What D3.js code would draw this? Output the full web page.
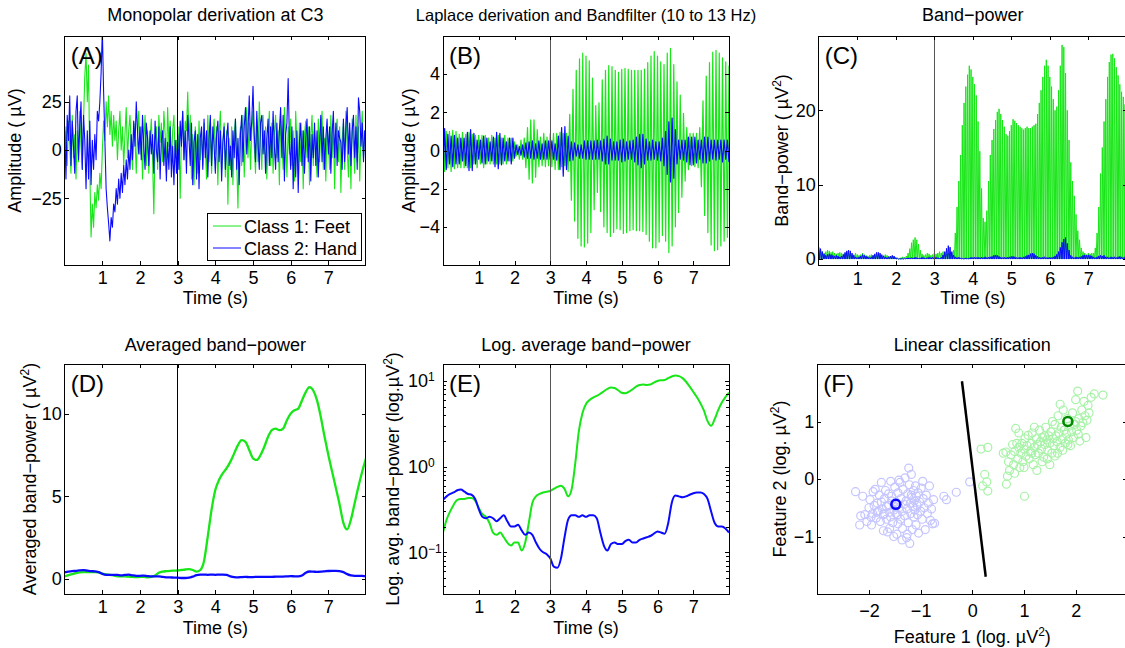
<!DOCTYPE html>
<html>
<head>
<meta charset="utf-8">
<script src="https://cdn.jsdelivr.net/npm/d3@7"></script>
<style>
    body { margin: 0; background: #fff; }
    text { font-family: "Liberation Sans", Arial, Helvetica, sans-serif; fill: #000; }
</style>
</head>
<body>
<svg id="chart" width="1125" height="648"></svg>
<script>
// ---- Data ----

// (A) monopolar C3, 30 samples per second, 0..8 s.
const RAW_RATE = 30;
const rawFeet = [
    -5, 12, -8, 15, 3, -12, 18, -4, 8, -15,
    10, -6, 20, 2, -10, 15, 38, 50, 25, 44,
    -10, -45, -28, -40, -22, -30, -18, -26, -12, -20,
    0, 15, 5, 25, 12, 28, 8, 20, 2, 18,
    5, 15, -5, 10, 20, 0, 12, -8, 8, 22,
    -4, 10, 18, 2, -10, 14, 6, -12, 8, 20,
    -2, 12, -15, 5, 18, -8, 10, -12, 6, 16,
    -5, -33, 5, 12, -10, 18, 4, 14, -6, 20,
    8, -12, 22, 2, 15, -8, 10, 18, -4, 5,
    -10, 12, -25, 8, 20, -5, 15, 10, 30, 5,
    18, -15, 8, -18, 12, 2, -12, 15, -5, 10,
    -8, 14, 2, -15, 18, -6, 10, -12, 6, 16,
    -2, 12, -18, 8, 20, -10, 4, 14, -14, 10,
    -28, 6, -10, 12, -18, 8, 16, -6, -30, 4,
    12, -8, 18, -14, 6, 22, -4, 14, -10, 10,
    20, 2, -12, 15, -6, 25, 8, -10, 18, -2,
    12, -15, 6, 20, -8, 14, -12, 8, 18, -4,
    10, -18, 15, 4, -10, 22, 6, -14, 12, -2,
    16, -8, 10, -16, 20, 2, -12, 14, -6, 10,
    -20, 8, 15, -4, 12, -18, 6, 18, -8, 10,
    2, -14, 16, -6, 10, 20, -10, 6, -16, 12,
    4, -10, 18, -4, 14, -20, 8, 16, -6, 12,
    -22, 6, 14, -10, 20, 2, -14, 10, -20, 16,
    4, -12, 18, -6, 12, -16, 8, 20, -4, 10, 2
];
const rawHand = [
    10, -15, 18, 5, 28, -8, 15, 2, -12, 20,
    28, -5, 12, 25, -10, 18, 5, -20, 10, -15,
    15, -18, 5, -10, 8, -5, 20, 15, 25, 40,
    62, 30, 5, -20, -30, -38, -47, -35, -40, -28,
    -32, -20, -28, -15, -25, -12, -22, -8, -18, -5,
    -15, 0, -10, 8, -5, 15, 2, 25, 10, -2,
    12, -5, 18, 2, -10, 14, 6, -8, 10, -2,
    8, -12, 15, 0, -6, 12, -15, 5, 10, -8,
    6, -16, 4, -10, 12, -14, 2, -18, 5, -12,
    8, -10, 15, 2, 20, -5, 10, -12, 18, 6,
    -8, 14, -18, 4, 10, -15, 8, -20, 6, 12,
    -10, 16, -4, 10, -14, 6, 18, -8, 12, 2,
    -12, 8, 15, -6, 10, -16, 4, 12, -10, 6,
    14, -8, 2, -14, 10, -4, 16, -10, 6, -18,
    8, 18, -6, 12, 22, -2, 10, 28, 5, 15,
    33, 8, -6, 20, 4, -10, 14, 18, -2, 10,
    -12, 6, 16, -8, 12, -4, 20, 2, -10, 14,
    -6, 10, 22, -4, 18, -16, 8, 14, 37, 5,
    -10, 12, -20, 6, -14, 10, -22, 4, 14, -8,
    10, -12, 6, 16, -6, 12, -16, 8, -4, 14,
    -8, 10, -14, 4, 18, -6, 12, -10, 6, 16,
    -2, 12, -12, 8, 20, -4, 14, -8, 10, 6,
    4, -10, 16, -6, 12, 22, -2, 14, -8, 10,
    18, -4, 12, -10, 27, 20, 2, 14, -6, 10, 4
];

// (B) band-filtered signal, successive extremes, 22 per second.
const EXTREMA_RATE = 22;
const filtFeet = [
    1.2, -1.1, 1.0, -0.9, 1.0, -1.1, 1.05, -0.95, 1.0, -0.9, 0.85,
    -0.9, 0.95, -0.9, 0.85, -0.9, 0.95, -0.9, 0.85, -0.7, 0.8, -0.9,
    0.8, -0.7, 0.8, -0.9, 0.8, -0.7, 0.65, -0.7, 0.8, -0.7, 0.65,
    -0.7, 0.8, -0.7, 0.65, -0.7, 0.8, -0.7, 0.65, -0.55, 0.65, -0.55,
    0.45, -0.3, 0.3, -0.45, 0.55, -0.45, 0.65, -0.9, 1.2, -1.5, 1.6,
    -1.7, 1.6, -1.4, 1.1, -0.85, 0.7, -0.8, 0.9, -0.85, 0.7, -0.8,
    0.9, -0.85, 0.9, -1.0, 0.9, -1.0, 0.95, -0.85, 0.9, -0.8, 0.9,
    -1.1, 1.9, -2.6, 3.2, -3.7, 4.2, -4.6, 4.8, -5.0, 5.1, -5.05,
    4.95, -4.85, 4.7, -4.3, 3.8, -3.1, 2.35, -2.2, 2.5, -3.2, 3.7,
    -4.0, 4.2, -4.3, 4.45, -4.5, 4.4, -4.3, 4.2, -4.1, 4.1, -4.15,
    4.25, -4.35, 4.3, -4.3, 4.25, -4.2, 4.2, -4.15, 4.2, -4.2, 4.2,
    -4.2, 4.2, -4.25, 4.27, -4.4, 4.6, -4.75, 4.95, -5.1, 5.18, -5.1,
    4.95, -4.8, 4.65, -4.45, 4.5, -4.75, 5.1, -5.35, 5.35, -5.0, 4.5,
    -4.0, 3.6, -3.25, 2.9, -2.45, 1.95, -1.6, 1.2, -1.0, 0.9, -0.8,
    0.9, -0.85, 0.9, -0.9, 1.2, -1.9, 2.6, -3.4, 3.9, -4.3, 4.6,
    -4.95, 5.15, -5.25, 5.25, -5.2, 5.1, -5.0, 4.85, -4.75, 4.65, -4.55, 4.45
];
const filtHand = [
    -1.25, 1.15, -1.0, 0.85, -0.7, 0.75, -0.85, 0.8, -0.7, 0.65, -0.7,
    0.65, -0.55, 0.65, -0.8, 0.95, -1.05, 1.1, -1.05, 0.9, -0.7, 0.55,
    -0.45, 0.55, -0.65, 0.75, -0.7, 0.65, -0.55, 0.45, -0.55, 0.7, -0.85,
    0.95, -0.95, 0.9, -0.75, 0.65, -0.55, 0.45, -0.55, 0.65, -0.7, 0.65,
    -0.4, 0.3, -0.2, 0.2, -0.25, 0.3, -0.35, 0.4, -0.4, 0.45, -0.4,
    0.5, -0.45, 0.35, -0.4, 0.5, -0.45, 0.35, -0.45, 0.5, -0.45, 0.5,
    -0.45, 0.5, -0.45, 0.35, -0.5, 0.75, -1.0, 1.2, -1.35, 1.25, -1.0,
    0.75, -0.55, 0.45, -0.5, 0.4, -0.3, 0.3, -0.4, 0.3, -0.4, 0.5,
    -0.45, 0.5, -0.45, 0.5, -0.45, 0.5, -0.45, 0.55, -0.45, 0.5, -0.55,
    0.6, -0.7, 0.75, -0.7, 0.6, -0.5, 0.45, -0.5, 0.45, -0.5, 0.55,
    -0.6, 0.6, -0.55, 0.45, -0.45, 0.5, -0.45, 0.55, -0.6, 0.7, -0.75,
    0.85, -0.9, 0.85, -0.7, 0.6, -0.5, 0.45, -0.5, 0.55, -0.45, 0.45,
    -0.5, 0.45, -0.55, 0.65, -0.8, 1.0, -1.25, 1.5, -1.65, 1.7, -1.45,
    1.1, -0.7, 0.55, -0.45, 0.55, -0.5, 0.55, -0.6, 0.7, -0.75, 0.7,
    -0.75, 0.7, -0.65, 0.55, -0.45, 0.55, -0.65, 0.7, -0.65, 0.7, -0.55,
    0.55, -0.45, 0.55, -0.5, 0.55, -0.45, 0.55, -0.6, 0.55, -0.45, 0.55, -0.6
];

// (C) band-power peaks, one per extreme of (B); the trace drops to 0 between peaks.
const powerFeet = [
    1.4, 1.2, 1.0, 0.8, 1.0, 1.2, 1.1, 0.9, 1.0, 0.8, 0.7,
    0.8, 0.9, 0.8, 0.7, 0.8, 0.9, 0.8, 0.7, 0.5, 0.6, 0.8,
    0.6, 0.5, 0.6, 0.8, 0.6, 0.5, 0.4, 0.5, 0.6, 0.5, 0.4,
    0.5, 0.6, 0.5, 0.4, 0.5, 0.6, 0.5, 0.4, 0.3, 0.4, 0.3,
    0.2, 0.1, 0.1, 0.2, 0.3, 0.2, 0.4, 0.8, 1.4, 2.2, 2.6,
    2.9, 2.6, 2.0, 1.2, 0.7, 0.5, 0.6, 0.8, 0.7, 0.5, 0.6,
    0.8, 0.7, 0.8, 1.0, 0.8, 1.0, 0.9, 0.7, 0.8, 0.6, 0.8,
    1.2, 3.5, 7, 10.5, 14, 18, 21, 23.2, 24.8, 26, 25.5,
    24.5, 23.5, 22, 18.5, 14.5, 9.5, 5.5, 5.0, 6.5, 10.5, 14,
    16, 17.5, 18.7, 19.8, 20.2, 19.5, 18.7, 17.8, 16.8, 16.6, 17.2,
    18, 18.8, 18.6, 18.3, 18.0, 17.8, 17.6, 17.4, 17.6, 17.8, 17.6,
    17.6, 17.8, 18, 18.2, 19.5, 21, 22.7, 24.5, 26, 26.8, 26,
    24.5, 23.2, 21.5, 20, 20.5, 22.7, 26, 28.8, 28.5, 25, 20,
    16, 13, 10.5, 8.5, 6, 3.8, 2.6, 1.5, 1.0, 0.8, 0.6,
    0.8, 0.7, 0.8, 0.8, 1.5, 3.5, 7, 11.5, 15, 18.5, 21.5,
    24.5, 26.5, 27.5, 27.6, 27, 25.8, 24.7, 23.5, 22.5, 21.8, 20.8, 20
];
const powerHand = [
    1.6, 1.4, 1.0, 0.7, 0.5, 0.6, 0.7, 0.6, 0.5, 0.4, 0.5,
    0.4, 0.3, 0.4, 0.6, 0.9, 1.1, 1.2, 1.1, 0.8, 0.5, 0.3,
    0.2, 0.3, 0.4, 0.6, 0.5, 0.4, 0.3, 0.2, 0.3, 0.5, 0.7,
    0.9, 0.9, 0.8, 0.6, 0.4, 0.3, 0.2, 0.3, 0.4, 0.5, 0.4,
    0.2, 0.1, 0.05, 0.05, 0.06, 0.1, 0.12, 0.16, 0.16, 0.2, 0.16,
    0.25, 0.2, 0.12, 0.16, 0.25, 0.2, 0.12, 0.2, 0.25, 0.2, 0.25,
    0.2, 0.25, 0.2, 0.12, 0.25, 0.55, 1.0, 1.45, 1.8, 1.6, 1.0,
    0.55, 0.3, 0.2, 0.25, 0.16, 0.09, 0.09, 0.16, 0.09, 0.16, 0.25,
    0.2, 0.25, 0.2, 0.25, 0.2, 0.25, 0.2, 0.3, 0.2, 0.25, 0.3,
    0.36, 0.5, 0.56, 0.5, 0.36, 0.25, 0.2, 0.25, 0.2, 0.25, 0.3,
    0.36, 0.36, 0.3, 0.2, 0.2, 0.25, 0.2, 0.3, 0.36, 0.5, 0.56,
    0.72, 0.8, 0.72, 0.5, 0.36, 0.25, 0.2, 0.25, 0.3, 0.2, 0.2,
    0.25, 0.2, 0.3, 0.42, 0.64, 1.0, 1.56, 2.25, 2.7, 2.9, 2.1,
    1.2, 0.5, 0.3, 0.2, 0.3, 0.25, 0.3, 0.36, 0.5, 0.56, 0.5,
    0.56, 0.5, 0.42, 0.3, 0.2, 0.3, 0.42, 0.5, 0.42, 0.5, 0.3,
    0.3, 0.2, 0.3, 0.25, 0.3, 0.2, 0.3, 0.36, 0.3, 0.2, 0.3, 0.36
];

// (D) and (E) averaged band-power, 10 samples per second (same series, linear and log axis).
const AVG_RATE = 10;
const avgFeet = [
    0.17, 0.24, 0.30, 0.36, 0.41, 0.42, 0.42, 0.43, 0.43, 0.40,
    0.33, 0.28, 0.26, 0.22, 0.17, 0.16, 0.17, 0.15, 0.13, 0.12,
    0.13, 0.13, 0.105, 0.13, 0.22, 0.38, 0.45, 0.48, 0.50, 0.51,
    0.52, 0.55, 0.58, 0.60, 0.55, 0.45, 0.55, 1.1, 2.6, 4.2,
    5.4, 6.0, 6.4, 6.7, 7.1, 7.6, 8.1, 8.4, 8.3, 7.8,
    7.3, 7.2, 7.5, 8.0, 8.6, 9.0, 9.1, 9.0, 9.1, 9.6,
    10.0, 10.2, 10.3, 10.8, 11.3, 11.6, 11.4, 10.8, 9.8, 8.6,
    7.5, 6.5, 5.5, 4.5, 3.4, 3.0, 3.6, 4.6, 5.6, 6.5,
    7.3
];
const avgHand = [
    0.41, 0.45, 0.48, 0.50, 0.53, 0.54, 0.51, 0.48, 0.47, 0.42,
    0.32, 0.26, 0.25, 0.26, 0.25, 0.23, 0.25, 0.27, 0.23, 0.20,
    0.20, 0.21, 0.18, 0.16, 0.17, 0.16, 0.13, 0.11, 0.10, 0.095,
    0.085, 0.068, 0.066, 0.085, 0.15, 0.24, 0.27, 0.27, 0.26, 0.27,
    0.26, 0.27, 0.27, 0.25, 0.17, 0.12, 0.105, 0.125, 0.13, 0.125,
    0.125, 0.135, 0.14, 0.13, 0.13, 0.14, 0.145, 0.15, 0.155, 0.165,
    0.175, 0.17, 0.165, 0.22, 0.38, 0.46, 0.45, 0.44, 0.45, 0.47,
    0.49, 0.50, 0.50, 0.48, 0.42, 0.30, 0.22, 0.20, 0.20, 0.19,
    0.17
];

// (F) features of single trials, [feature 1, feature 2].
const featFeet = [
    [0.17, 0.52], [0.30, 0.55], [0.24, 0.08], [0.20, -0.12], [0.30, -0.21], [0.28, -0.05], [0.66, -0.09], [1.01, -0.30], [0.60, 0.45], [0.65, 0.47],
    [0.70, 0.30], [0.72, 0.15], [0.75, 0.42], [0.78, 0.60], [0.80, 0.25], [0.82, 0.48], [0.84, 0.88], [0.86, 0.62], [0.88, 0.35], [0.90, 0.55],
    [0.92, 0.20], [0.94, 0.45], [0.96, 0.62], [0.98, 0.30], [1.00, 0.52], [1.02, 0.70], [1.04, 0.40], [1.06, 0.58], [1.08, 0.76], [1.10, 0.35],
    [1.12, 0.48], [1.14, 0.62], [1.16, 0.80], [1.18, 0.25], [1.20, 0.55], [1.22, 0.42], [1.24, 0.70], [1.26, 0.60], [1.28, 0.45], [1.30, 0.85],
    [1.32, 0.65], [1.34, 0.52], [1.36, 0.72], [1.38, 0.38], [1.40, 0.60], [1.42, 0.90], [1.44, 0.68], [1.46, 0.50], [1.48, 0.75], [1.50, 0.62],
    [1.52, 0.82], [1.54, 0.45], [1.56, 0.70], [1.58, 0.58], [1.60, 0.95], [1.62, 0.75], [1.64, 0.65], [1.66, 1.10], [1.68, 0.80], [1.70, 0.55],
    [1.72, 0.90], [1.74, 0.70], [1.76, 1.20], [1.78, 0.85], [1.80, 0.62], [1.82, 0.78], [1.84, 1.05], [1.86, 0.68], [1.88, 0.92], [1.90, 0.58],
    [1.92, 0.82], [1.94, 1.15], [1.96, 0.72], [1.98, 0.95], [2.00, 1.38], [2.02, 0.85], [2.04, 1.53], [2.06, 1.05], [2.08, 0.66], [2.10, 0.92],
    [2.12, 1.20], [2.14, 0.98], [2.16, 1.35], [2.18, 1.10], [2.20, 0.72], [2.22, 1.02], [2.24, 1.28], [2.26, 1.15], [2.30, 1.42], [2.36, 1.48],
    [2.53, 1.46], [1.50, 0.25], [1.35, 0.30], [1.65, 0.45], [1.20, 0.90], [0.90, 0.80], [1.00, 0.20], [1.45, 0.35], [1.75, 0.50], [1.55, 1.00],
    [1.70, 1.30], [2.00, 1.00], [1.25, 0.15], [0.68, 0.05], [1.60, 0.40], [1.40, 0.75], [1.85, 0.60], [2.05, 0.78], [1.15, 0.45], [0.82, 0.10]
];
const featHand = [
    [-2.26, -0.22], [-2.18, -0.80], [-2.12, -0.30], [-2.08, -0.62], [-2.04, -0.74], [-2.00, -0.50], [-1.98, -0.36], [-1.95, -0.80], [-1.93, -0.60], [-1.90, -0.46],
    [-1.88, -0.18], [-1.86, -0.68], [-1.84, -0.42], [-1.82, -0.56], [-1.80, -0.28], [-1.78, -0.74], [-1.76, -0.06], [-1.74, -0.52], [-1.72, -0.62], [-1.70, -0.34],
    [-1.68, -0.20], [-1.66, -0.70], [-1.64, -0.92], [-1.62, -0.46], [-1.60, -0.58], [-1.58, -0.04], [-1.56, -0.30], [-1.54, -0.76], [-1.52, -0.54], [-1.50, -0.14],
    [-1.48, -0.40], [-1.46, -0.96], [-1.45, -0.62], [-1.44, -0.24], [-1.42, -0.50], [-1.40, -0.06], [-1.39, -0.70], [-1.38, -0.34], [-1.36, -0.56], [-1.35, -0.86],
    [-1.34, -0.18], [-1.32, -0.44], [-1.31, -0.64], [-1.30, 0.02], [-1.28, -0.38], [-1.27, -1.02], [-1.26, -0.52], [-1.25, -0.26], [-1.24, -0.76], [-1.23, 0.19],
    [-1.22, -0.10], [-1.21, -1.12], [-1.20, -0.42], [-1.19, -0.60], [-1.18, 0.08], [-1.17, -0.32], [-1.16, -0.88], [-1.15, -0.48], [-1.14, -0.20], [-1.13, -0.66],
    [-1.12, -0.38], [-1.11, -0.54], [-1.10, -0.12], [-1.09, -0.80], [-1.08, -0.30], [-1.07, -0.46], [-1.06, -0.62], [-1.05, -0.24], [-1.04, -0.94], [-1.02, -0.40],
    [-1.00, -0.56], [-0.99, -0.16], [-0.97, -0.70], [-0.95, -0.34], [-0.93, -0.50], [-0.91, -0.88], [-0.89, -0.28], [-0.87, -0.60], [-0.85, -0.42], [-0.83, -0.12],
    [-0.81, -0.72], [-0.79, -0.52], [-0.77, -0.78], [-0.75, -0.36], [-0.73, -0.77], [-0.55, -0.30], [-0.50, -0.36], [-0.31, -0.23], [-0.05, -0.05], [-1.60, -0.86],
    [-1.72, -0.90], [-1.52, -1.00], [-1.36, -1.06], [-1.26, -0.96], [-1.92, -0.22], [-2.16, -0.64], [-1.76, -0.40], [-1.42, -0.02], [-1.18, -0.28], [-0.96, -0.04],
    [-1.66, -0.48], [-1.58, -0.66], [-1.50, -0.48], [-1.44, -0.78], [-1.56, -0.38], [-1.62, -0.26], [-1.84, -0.58], [-1.96, -0.66], [-1.70, -0.60], [-1.48, -0.60]
];
const meanFeet = [1.85, 1.0];
const meanHand = [-1.48, -0.44];
const boundaryLine = [[-0.2, 1.7], [0.26, -1.7]];

const TIME_DOMAIN = [0, 8];
const TIME_TICKS = [1, 2, 3, 4, 5, 6, 7];
const CUE_TIME = 3;
const LEGEND_LABELS = ["Class 1: Feet", "Class 2: Hand"];

// ---- Style and layout ----
const FONT_SIZE = 18;
const SUP_FONT_SIZE = 12;
const TICK_LENGTH = 4;
const GREEN = "#17e617";
const BLUE = "#0a0aff";
const LIGHT_GREEN = "#a8f2a8";
const LIGHT_BLUE = "#c4c4ff";
const DARK_GREEN = "#008a00";

const svg = d3.select("#chart");

// Creates an axes box with MATLAB-like inward ticks on all four sides.
function addPanel(p) {
    const g = svg.append("g").attr("transform", "translate(" + p.left + "," + p.top + ")");
    const x = d3.scaleLinear().domain(p.xDomain).range([0, p.width]);
    const y = (p.log ? d3.scaleLog() : d3.scaleLinear()).domain(p.yDomain).range([p.height, 0]);

    g.append("clipPath")
        .attr("id", "clip-" + p.id)
        .append("rect")
        .attr("width", p.width)
        .attr("height", p.height);
    const plot = g.append("g").attr("clip-path", "url(#clip-" + p.id + ")");

    const styleAxis = (sel) => {
        sel.select(".domain").remove();
        sel.attr("font-size", FONT_SIZE).attr("font-family", null);
        sel.selectAll("line").attr("shape-rendering", "crispEdges");
    };
    const fmt = d3.format("d");

    g.append("g")
        .attr("transform", "translate(0," + p.height + ")")
        .call(d3.axisBottom(x).tickValues(p.xTicks).tickFormat(fmt)
            .tickSizeInner(-TICK_LENGTH).tickSizeOuter(0).tickPadding(p.xTickPad))
        .call(styleAxis);
    g.append("g")
        .call(d3.axisTop(x).tickValues(p.xTicks).tickFormat("")
            .tickSizeInner(-TICK_LENGTH).tickSizeOuter(0))
        .call(styleAxis);
    g.append("g")
        .call(d3.axisLeft(y).tickValues(p.yTicks).tickFormat(p.log ? "" : fmt)
            .tickSizeInner(-TICK_LENGTH).tickSizeOuter(0).tickPadding(3))
        .call(styleAxis);
    g.append("g")
        .attr("transform", "translate(" + p.width + ",0)")
        .call(d3.axisRight(y).tickValues(p.yTicks).tickFormat("")
            .tickSizeInner(-TICK_LENGTH).tickSizeOuter(0))
        .call(styleAxis);

    g.append("rect")
        .attr("width", p.width)
        .attr("height", p.height)
        .attr("fill", "none")
        .attr("stroke", "#000")
        .attr("shape-rendering", "crispEdges");

    // Title, panel letter and axis labels.
    svg.append("text")
        .attr("x", p.left + p.width / 2)
        .attr("y", p.titleY)
        .attr("text-anchor", "middle")
        .attr("font-size", p.titleSize || FONT_SIZE)
        .text(p.title);
    g.append("text")
        .attr("x", 6)
        .attr("y", 28)
        .attr("font-size", 24)
        .text("(" + p.id + ")");

    const xl = svg.append("text")
        .attr("x", p.left + p.width / 2)
        .attr("y", p.xLabelY)
        .attr("text-anchor", "middle")
        .attr("font-size", FONT_SIZE);
    addRichText(xl, p.xLabel);

    const cy = p.top + p.height / 2;
    const yl = svg.append("text")
        .attr("transform", "translate(" + p.yLabelX + "," + cy + ") rotate(-90)")
        .attr("text-anchor", "middle")
        .attr("font-size", FONT_SIZE);
    addRichText(yl, p.yLabel);

    return { g, plot, x, y, p };
}

// Label parts: plain strings, or {sup: "2"} for a superscript.
function addRichText(text, parts) {
    let raised = false;
    parts.forEach((part) => {
        if (typeof part === "string") {
            text.append("tspan").attr("dy", raised ? 7 : null).text(part);
            raised = false;
        } else {
            text.append("tspan").attr("dy", -7).attr("font-size", SUP_FONT_SIZE).text(part.sup);
            raised = true;
        }
    });
}

function drawCue(panel, color) {
    panel.plot.append("line")
        .attr("x1", panel.x(CUE_TIME))
        .attr("x2", panel.x(CUE_TIME))
        .attr("y1", 0)
        .attr("y2", panel.p.height)
        .attr("stroke", color)
        .attr("stroke-width", 1)
        .attr("shape-rendering", "crispEdges");
}

function drawTrace(panel, values, rate, color, width, curve) {
    const line = d3.line()
        .x((v, i) => panel.x(i / rate))
        .y((v) => panel.y(v));
    if (curve) line.curve(curve);
    panel.plot.append("path")
        .datum(values)
        .attr("d", line)
        .attr("fill", "none")
        .attr("stroke", color)
        .attr("stroke-width", width)
        .attr("stroke-linejoin", "round");
}

// Band-power trace: every peak followed by a return to the baseline.
function drawPowerTrace(panel, peaks, color) {
    const points = [];
    peaks.forEach((v, k) => {
        points.push([k / EXTREMA_RATE, v]);
        if (k < peaks.length - 1) points.push([(k + 0.5) / EXTREMA_RATE, 0]);
    });
    panel.plot.append("path")
        .datum(points)
        .attr("d", d3.line().x((d) => panel.x(d[0])).y((d) => panel.y(d[1])))
        .attr("fill", "none")
        .attr("stroke", color)
        .attr("stroke-width", 1);
}

const uv2 = [" µV", { sup: "2" }, ")"];
const timeLabel = ["Time (s)"];

// (A) Monopolar derivation
const panelA = addPanel({
    id: "A", left: 64.7, top: 36, width: 301.3, height: 229,
    xDomain: TIME_DOMAIN, yDomain: [-59.5, 59], xTicks: TIME_TICKS, yTicks: [-25, 0, 25],
    xTickPad: 6.4, title: "Monopolar derivation at C3", titleY: 21,
    xLabel: timeLabel, xLabelY: 303.5, yLabel: ["Amplitude ( µV)"], yLabelX: 21,
});
drawTrace(panelA, rawFeet, RAW_RATE, GREEN, 1.1);
drawTrace(panelA, rawHand, RAW_RATE, BLUE, 1.1);
drawCue(panelA, "#000");

const legend = svg.append("g").attr("transform", "translate(207,213)");
legend.append("rect")
    .attr("width", 154)
    .attr("height", 47)
    .attr("fill", "#fff")
    .attr("stroke", "#000")
    .attr("shape-rendering", "crispEdges");
[GREEN, BLUE].forEach((color, i) => {
    const rowY = 13 + i * 22;
    legend.append("line")
        .attr("x1", 6).attr("x2", 34)
        .attr("y1", rowY).attr("y2", rowY)
        .attr("stroke", color)
        .attr("stroke-width", 1);
    legend.append("text")
        .attr("x", 37)
        .attr("y", rowY + 6.5)
        .attr("font-size", FONT_SIZE)
        .text(LEGEND_LABELS[i]);
});

// (B) Laplace derivation, band filtered
const panelB = addPanel({
    id: "B", left: 443, top: 36, width: 286, height: 229,
    xDomain: TIME_DOMAIN, yDomain: [-6, 6], xTicks: TIME_TICKS, yTicks: [-4, -2, 0, 2, 4],
    xTickPad: 6.4, title: "Laplace derivation and Bandfilter (10 to 13 Hz)", titleY: 21, titleSize: 16.5,
    xLabel: timeLabel, xLabelY: 303.5, yLabel: ["Amplitude ( µV)"], yLabelX: 414.5,
});
drawTrace(panelB, filtFeet, EXTREMA_RATE, GREEN, 1.2);
drawTrace(panelB, filtHand, EXTREMA_RATE, BLUE, 1.2);
drawCue(panelB, "#555");

// (C) Band-power
const panelC = addPanel({
    id: "C", left: 818.8, top: 36, width: 308, height: 229,
    xDomain: TIME_DOMAIN, yDomain: [-0.8, 30], xTicks: TIME_TICKS, yTicks: [0, 10, 20],
    xTickPad: 6.8, title: "Band−power", titleY: 21,
    xLabel: timeLabel, xLabelY: 303.5, yLabel: ["Band−power (", ...uv2], yLabelX: 788,
});
drawPowerTrace(panelC, powerFeet, GREEN);
drawPowerTrace(panelC, powerHand, BLUE);
drawCue(panelC, "#555");

// (D) Averaged band-power
const panelD = addPanel({
    id: "D", left: 64.7, top: 364, width: 301.3, height: 230,
    xDomain: TIME_DOMAIN, yDomain: [-0.9, 13], xTicks: TIME_TICKS, yTicks: [0, 5, 10],
    xTickPad: 5.8, title: "Averaged band−power", titleY: 351,
    xLabel: timeLabel, xLabelY: 633.5, yLabel: ["Averaged band−power (", ...uv2], yLabelX: 36,
});
drawTrace(panelD, avgFeet, AVG_RATE, GREEN, 2.3, d3.curveMonotoneX);
drawTrace(panelD, avgHand, AVG_RATE, BLUE, 2.3, d3.curveMonotoneX);
drawCue(panelD, "#000");

// (E) Log. average band-power
const panelE = addPanel({
    id: "E", left: 443, top: 364, width: 286, height: 230, log: true,
    xDomain: TIME_DOMAIN, yDomain: [0.0326, 15.8], xTicks: TIME_TICKS, yTicks: [0.1, 1, 10],
    xTickPad: 5.8, title: "Log. average band−power", titleY: 351,
    xLabel: timeLabel, xLabelY: 633.5, yLabel: ["Log. avg. band−power (log.µV", { sup: "2" }, ")"], yLabelX: 399,
});
[[0.1, "−1"], [1, "0"], [10, "1"]].forEach(([v, exp]) => {
    const t = panelE.g.append("text")
        .attr("x", -35)
        .attr("y", panelE.y(v))
        .attr("dy", "0.35em")
        .attr("font-size", FONT_SIZE);
    t.append("tspan").text("10");
    t.append("tspan").attr("dy", -6).attr("font-size", SUP_FONT_SIZE).text(exp);
});
// Minor log ticks.
const minorTicks = [0.04, 0.05, 0.06, 0.07, 0.08, 0.09, 0.2, 0.3, 0.4, 0.5, 0.6, 0.7, 0.8, 0.9, 2, 3, 4, 5, 6, 7, 8, 9];
minorTicks.forEach((v) => {
    [[0, 3], [panelE.p.width, panelE.p.width - 3]].forEach(([x1, x2]) => {
        panelE.g.append("line")
            .attr("x1", x1).attr("x2", x2)
            .attr("y1", Math.round(panelE.y(v)) + 0.5).attr("y2", Math.round(panelE.y(v)) + 0.5)
            .attr("stroke", "#000");
    });
});
drawTrace(panelE, avgFeet, AVG_RATE, GREEN, 2, d3.curveMonotoneX);
drawTrace(panelE, avgHand, AVG_RATE, BLUE, 2, d3.curveMonotoneX);
drawCue(panelE, "#555");

// (F) Linear classification
const panelF = addPanel({
    id: "F", left: 817.3, top: 364, width: 310, height: 230,
    xDomain: [-3, 3], yDomain: [-2, 2], xTicks: [-2, -1, 0, 1, 2], yTicks: [-1, 0, 1],
    xTickPad: 10.5, title: "Linear classification", titleY: 351,
    xLabel: ["Feature 1 (log. µV", { sup: "2" }, ")"], xLabelY: 643,
    yLabel: ["Feature 2 (log. µV", { sup: "2" }, ")"], yLabelX: 786,
});
[[featHand, LIGHT_BLUE], [featFeet, LIGHT_GREEN]].forEach(([points, color]) => {
    panelF.plot.append("g")
        .selectAll("circle")
        .data(points)
        .join("circle")
        .attr("cx", (d) => panelF.x(d[0]))
        .attr("cy", (d) => panelF.y(d[1]))
        .attr("r", 4)
        .attr("fill", "none")
        .attr("stroke", color)
        .attr("stroke-width", 1.2);
});
panelF.plot.append("path")
    .datum(boundaryLine)
    .attr("d", d3.line().x((d) => panelF.x(d[0])).y((d) => panelF.y(d[1])))
    .attr("stroke", "#000")
    .attr("stroke-width", 2.5);
[[meanHand, BLUE], [meanFeet, DARK_GREEN]].forEach(([d, color]) => {
    panelF.plot.append("circle")
        .attr("cx", panelF.x(d[0]))
        .attr("cy", panelF.y(d[1]))
        .attr("r", 4.5)
        .attr("fill", "none")
        .attr("stroke", color)
        .attr("stroke-width", 2.6);
});
</script>
</body>
</html>
